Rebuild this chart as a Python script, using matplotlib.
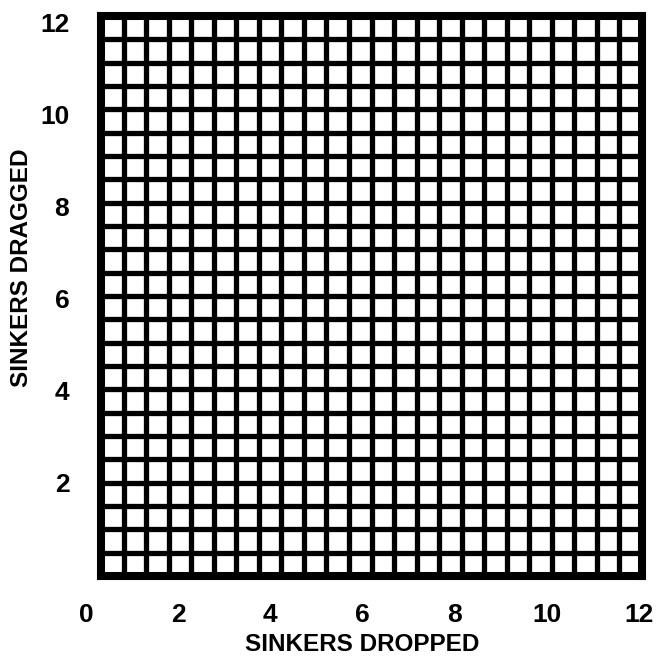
import numpy as np
import matplotlib.pyplot as plt

# axis values and labels
x_ticks = [0, 2, 4, 6, 8, 10, 12]
y_ticks = [2, 4, 6, 8, 10, 12]
x_label = 'SINKERS DROPPED'
y_label = 'SINKERS DRAGGED'
n_cells = 24  # half-unit squares in each direction

plt.rcParams['font.family'] = ['Liberation Sans', 'DejaVu Sans']
plt.rcParams['font.weight'] = 'bold'

fig = plt.figure(figsize=(6.56, 6.62), dpi=100)

# grid box
gx = fig.add_axes([101/656, 1 - 576/662, 541/656, 560/662])
gx.set_xlim(0, n_cells)
gx.set_ylim(0, n_cells)
cells = np.arange(1, n_cells)
gx.vlines(cells, 0, n_cells, color='black', lw=3.8)
gx.hlines(cells, 0, n_cells, color='black', lw=3.8)
for s in gx.spines.values():
	s.set_linewidth(5.8)
	s.set_capstyle('projecting')
gx.set_xticks([])
gx.set_yticks([])

# scale for tick labels (printed slightly offset from the grid)
ax = fig.add_axes([86/656, 1 - 574/662, 553/656, 552/662], facecolor='none')
ax.set_xlim(0, 12)
ax.set_ylim(0, 12)
ax.set_xticks(x_ticks)
ax.set_yticks(y_ticks)
ax.tick_params(axis='x', length=0, pad=21, labelsize=19)
ax.tick_params(axis='y', length=0, pad=12, labelsize=19)
for s in ax.spines.values():
	s.set_visible(False)
ax.set_xlabel(x_label, fontsize=17.5, fontweight='bold', labelpad=4)
ax.set_ylabel(y_label, fontsize=17.5, fontweight='bold')
ax.yaxis.set_label_coords(-0.095, 0.554)

fig.savefig('out.png', dpi=100)
